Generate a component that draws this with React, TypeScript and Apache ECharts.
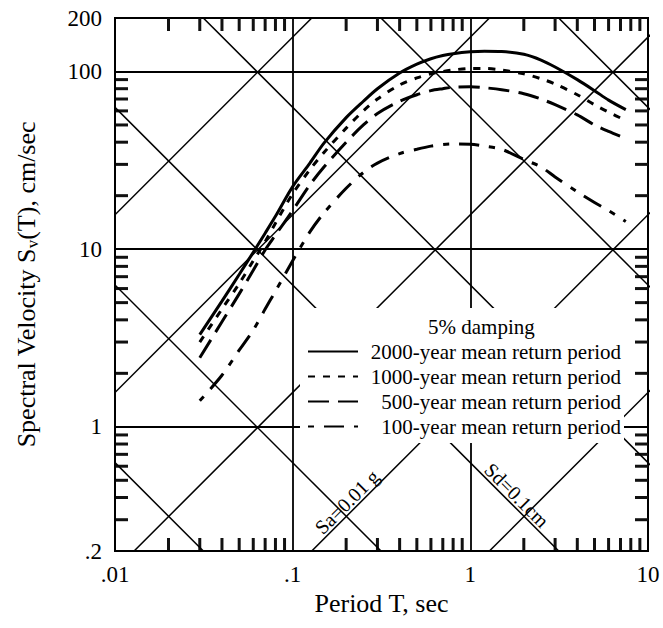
import React, { useEffect, useRef } from 'react';
import * as echarts from 'echarts';

const FONT = '"Liberation Serif", "Times New Roman", serif';

// Periods (sec) at which the spectra were read
const periods = [0.03, 0.04, 0.05, 0.06, 0.07, 0.08, 0.1, 0.125, 0.15, 0.2, 0.25, 0.3, 0.4, 0.5, 0.6, 0.7, 0.8, 1.0, 1.2, 1.5, 2, 2.5, 3, 4, 5, 6, 7.5];
// Spectral velocity (cm/sec)
const sv2000 = [3.3, 5.1, 7.2, 9.6, 12.3, 15.3, 22.5, 30.5, 39.5, 55, 68, 80, 98, 110, 118, 123, 126, 129, 130, 129.5, 125, 116, 106, 90, 78, 69, 61];
const sv1000 = [3.0, 4.6, 6.4, 8.6, 11, 14, 20.5, 28, 35, 48, 60, 70, 84, 92, 97, 100, 102, 104, 104, 102, 97, 91, 85, 74, 65, 59, 53];
const sv500 = [2.45, 3.9, 5.6, 7.6, 9.9, 12, 16.5, 23, 29, 40, 50, 58, 68, 74, 78, 80, 81.5, 82, 81, 79, 75, 70, 65, 57, 50, 46, 42];
const sv100 = [1.4, 1.95, 2.7, 3.5, 4.6, 5.8, 8.6, 12.5, 16, 22, 27, 30.5, 34.5, 36.5, 38, 38.8, 39.1, 39, 38, 36.5, 32, 29, 25.5, 21, 18.3, 16.5, 14.3];

const seriesNames = [
  '2000-year mean return period',
  '1000-year mean return period',
  '500-year mean return period',
  '100-year mean return period',
];
const seriesValues = [sv2000, sv1000, sv500, sv100];
const seriesDash: (number[] | 'solid')[] = ['solid', [7, 8], [21, 9], [6, 10, 20, 10]];

// Axis extents
const xMin = 0.01;
const xMax = 10;
const yMin = 0.2;
const yMax = 200;

// Minor tick positions
const xMinorTicks = [0.02, 0.03, 0.04, 0.05, 0.06, 0.07, 0.08, 0.09, 0.2, 0.3, 0.4, 0.5, 0.6, 0.7, 0.8, 0.9, 2, 3, 4, 5, 6, 7, 8, 9];
const yMinorTicks = [0.3, 0.4, 0.5, 0.6, 0.7, 0.8, 0.9, 2, 3, 4, 5, 6, 7, 8, 9, 20, 30, 40, 50, 60, 70, 80, 90];

// Tripartite guide lines
const sdLevelsCm = [0.001, 0.01, 0.1, 1, 10, 100];
const saLevelsG = [0.001, 0.01, 0.1, 1, 10];
const G_CM = 981;
const TWO_PI = 2 * Math.PI;
const guideT = [0.004, 25];

const saLabel = { text: 'Sa=0.01 g', level: 0.01, t: 0.221 };
const sdLabel = { text: 'Sd=0.1cm', level: 0.1, t: 1.67 };

// Layout
const W = 663;
const H = 628;
const GRID = { left: 115, right: 15, top: 18, bottom: 77 };
const TICK_LEN = 13;

const fmt = (v: number) => {
  let s = String(parseFloat(Number(v).toPrecision(4)));
  if (s.startsWith('0.')) s = s.slice(1);
  return s;
};

const segSeries = (data: number[][], width: number, z: number) => ({
  type: 'line',
  silent: true,
  showSymbol: false,
  symbol: 'none',
  clip: true,
  z,
  lineStyle: { color: '#000', width },
  data,
});

export default function App() {
  const ref = useRef<HTMLDivElement>(null);

  useEffect(() => {
    document.body.style.margin = '0';
    if (!ref.current) return;
    const chart = echarts.init(ref.current, null, { renderer: 'svg' });

    const guideSeries: any[] = [];
    sdLevelsCm.forEach((d) => {
      guideSeries.push(segSeries(guideT.map((t) => [t, (TWO_PI * d) / t]), 1.5, 1));
    });
    saLevelsG.forEach((a) => {
      guideSeries.push(segSeries(guideT.map((t) => [t, (a * G_CM * t) / TWO_PI]), 1.5, 1));
    });

    const curveSeries = seriesNames.map((name, i) => ({
      name,
      type: 'line',
      showSymbol: false,
      symbol: 'none',
      smooth: 0.3,
      z: 3,
      lineStyle: { color: '#000', width: 3, type: seriesDash[i] },
      itemStyle: { color: '#000' },
      data: periods.map((t, j) => [t, seriesValues[i][j]]),
    }));

    chart.setOption({
      animation: false,
      backgroundColor: '#fff',
      grid: { ...GRID, show: true, borderColor: '#000', borderWidth: 2 },
      title: {
        text: '5% damping',
        left: 428,
        top: 316,
        padding: 0,
        textStyle: { fontFamily: FONT, fontSize: 21, fontWeight: 'normal', color: '#000' },
      },
      legend: {
        data: seriesNames,
        orient: 'vertical',
        left: 300,
        top: 308,
        padding: [33, 3, 6, 7],
        itemGap: 4,
        itemWidth: 50,
        itemHeight: 14,
        backgroundColor: '#fff',
        selectedMode: false,
        itemStyle: { opacity: 0 },
        formatter: (n: string) => `{r|${n}}`,
        textStyle: {
          rich: { r: { fontFamily: FONT, fontSize: 21, color: '#000', width: 258, align: 'right' } },
        },
      },
      xAxis: {
        type: 'log',
        logBase: 10,
        min: xMin,
        max: xMax,
        name: 'Period T, sec',
        nameLocation: 'middle',
        nameGap: 36,
        nameTextStyle: { fontFamily: FONT, fontSize: 26, color: '#000' },
        axisLine: { show: true, lineStyle: { color: '#000', width: 2 } },
        axisTick: { show: false },
        minorTick: { show: false },
        axisLabel: { formatter: fmt, fontFamily: FONT, fontSize: 23, color: '#000', margin: 12 },
        splitLine: { show: true, lineStyle: { color: '#000', width: 1.8 } },
      },
      yAxis: {
        type: 'log',
        logBase: 10,
        min: yMin,
        max: yMax,
        name: '{a|Spectral Velocity S}{b|v}{a|(T), cm/sec}',
        nameLocation: 'middle',
        nameGap: 74,
        nameTextStyle: {
          rich: {
            a: { fontFamily: FONT, fontSize: 26, color: '#000', lineHeight: 30 },
            b: { fontFamily: FONT, fontSize: 17, color: '#000', lineHeight: 17, verticalAlign: 'bottom' },
          },
        },
        axisLine: { show: true, lineStyle: { color: '#000', width: 2 } },
        axisTick: { show: false },
        minorTick: { show: false },
        axisLabel: { formatter: fmt, fontFamily: FONT, fontSize: 23, color: '#000', margin: 13, showMinLabel: true, showMaxLabel: true },
        splitLine: { show: true, lineStyle: { color: '#000', width: 1.8 } },
      },
      series: [...guideSeries, ...curveSeries],
    });

    // Minor ticks, positioned through the axes' scales
    const left = GRID.left;
    const right = W - GRID.right;
    const top = GRID.top;
    const bottom = H - GRID.bottom;
    const tickEls: any[] = [];
    const mk = (x1: number, y1: number, x2: number, y2: number) => ({
      type: 'line',
      shape: { x1, y1, x2, y2 },
      style: { stroke: '#111', lineWidth: 3 },
    });
    xMinorTicks.forEach((t) => {
      const x = chart.convertToPixel({ xAxisIndex: 0 }, t) as number;
      tickEls.push(mk(x, bottom, x, bottom - TICK_LEN));
      tickEls.push(mk(x, top, x, top + TICK_LEN));
    });
    yMinorTicks.forEach((v) => {
      const y = chart.convertToPixel({ yAxisIndex: 0 }, v) as number;
      tickEls.push(mk(left, y, left + TICK_LEN, y));
      tickEls.push(mk(right, y, right - TICK_LEN, y));
    });

    // Guide-line labels positioned through the axes' scales
    const saPt = chart.convertToPixel({ xAxisIndex: 0, yAxisIndex: 0 }, [saLabel.t, (saLabel.level * G_CM * saLabel.t) / TWO_PI]) as number[];
    const sdPt = chart.convertToPixel({ xAxisIndex: 0, yAxisIndex: 0 }, [sdLabel.t, (TWO_PI * sdLabel.level) / sdLabel.t]) as number[];
    const off = 7;
    chart.setOption({
      graphic: [
        {
          type: 'text', x: saPt[0] - off, y: saPt[1] - off, rotation: Math.PI / 4, z: 10,
          style: { text: saLabel.text, fontFamily: FONT, fontSize: 20, fill: '#000', align: 'center', verticalAlign: 'middle' },
        },
        {
          type: 'text', x: sdPt[0] + off, y: sdPt[1] - off, rotation: -Math.PI / 4, z: 10,
          style: { text: sdLabel.text, fontFamily: FONT, fontSize: 20, fill: '#000', align: 'center', verticalAlign: 'middle' },
        },
        ...tickEls,
      ],
    });

    return () => chart.dispose();
  }, []);

  return <div ref={ref} style={{ width: W, height: H }} />;
}
